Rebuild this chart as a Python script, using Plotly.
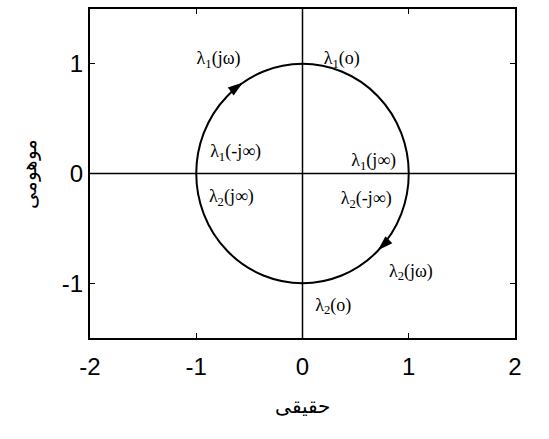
import plotly.graph_objects as go

# eigenvalue locus: unit circle traversed clockwise
center_x, center_y, radius = 0.0, 0.0, 1.0

# direction markers on the locus
arrow_x = [-0.56, 0.71]
arrow_y = [0.83, -0.70]
arrow_angle = [54, 226]

# annotation labels
label_text = [
    "λ<sub>1</sub>(jω)", "λ<sub>1</sub>(o)", "λ<sub>1</sub>(-j∞)", "λ<sub>1</sub>(j∞)",
    "λ<sub>2</sub>(j∞)", "λ<sub>2</sub>(-j∞)", "λ<sub>2</sub>(jω)", "λ<sub>2</sub>(o)",
]
label_x = [-0.79, 0.37, -0.63, 0.67, -0.67, 0.60, 1.02, 0.29]
label_y = [1.04, 1.04, 0.19, 0.11, -0.22, -0.24, -0.90, -1.21]

x_ticks = [-2, -1, 0, 1, 2]
x_tick_text = ["-2", "-1", "0", "1", "2"]
y_ticks = [-1, 0, 1]
y_tick_text = ["-1", "0", "1"]

fig = go.Figure()

fig.add_shape(type="circle", xref="x", yref="y",
              x0=center_x - radius, x1=center_x + radius,
              y0=center_y - radius, y1=center_y + radius,
              line=dict(color="black", width=2))

# crosshair lines through the origin
fig.add_shape(type="line", xref="x", yref="y", x0=0, x1=0, y0=-1.5, y1=1.5,
              line=dict(color="black", width=1.5))
fig.add_shape(type="line", xref="x", yref="y", x0=-2, x1=2, y0=0, y1=0,
              line=dict(color="black", width=1.5))

fig.add_trace(go.Scatter(
    x=arrow_x, y=arrow_y, mode="markers",
    marker=dict(symbol="arrow", size=16, angle=arrow_angle, color="black",
                line=dict(width=0)),
    hoverinfo="skip", showlegend=False,
))

fig.add_trace(go.Scatter(
    x=label_x, y=label_y, mode="text", text=label_text,
    textfont=dict(family="Liberation Serif", size=18, color="black"),
    hoverinfo="skip", showlegend=False,
))

axis_common = dict(
    showgrid=False, zeroline=False, showline=True, linecolor="black", linewidth=2,
    mirror="ticks", ticks="inside", ticklen=5, tickcolor="black",
    tickfont=dict(family="Liberation Sans", size=24, color="black"),
)

fig.update_xaxes(range=[-2, 2], tickvals=x_ticks, ticktext=x_tick_text,
                 ticklabelstandoff=6, **axis_common,
                 title=dict(text="حقیقی", font=dict(family="Noto Sans", size=20, color="black"),
                            standoff=20))
fig.update_yaxes(range=[-1.5, 1.5], tickvals=y_ticks, ticktext=y_tick_text, **axis_common,
                 title=dict(text="موهومی", font=dict(family="Noto Sans", size=20, color="black"),
                            standoff=20))

fig.update_layout(
    width=549, height=439,
    margin=dict(l=90, r=34, t=7, b=101),
    paper_bgcolor="white", plot_bgcolor="white",
)

fig.write_html("out.html")
